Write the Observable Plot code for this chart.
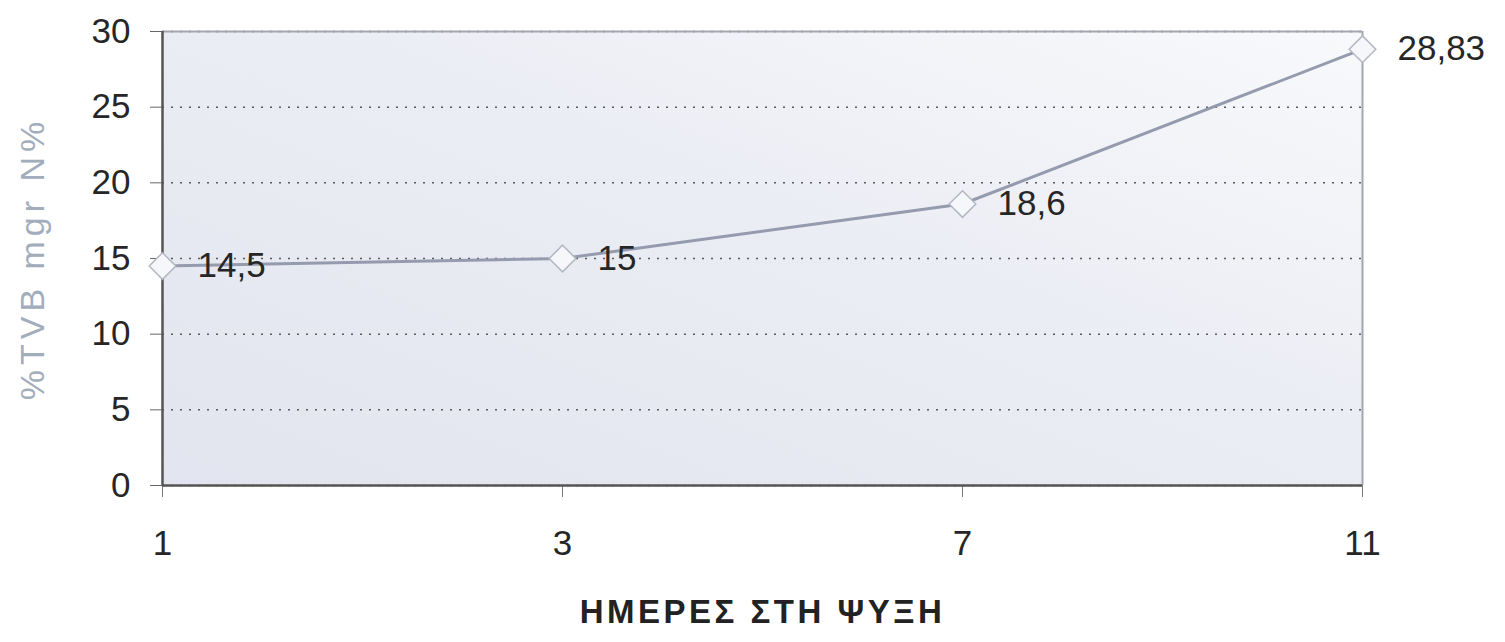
<!DOCTYPE html>
<html>
<head>
<meta charset="utf-8">
<script src="https://cdn.jsdelivr.net/npm/d3@7"></script>
<script src="https://cdn.jsdelivr.net/npm/@observablehq/plot@0.6"></script>
<style>
  html, body { margin: 0; padding: 0; background: #fff; }
</style>
</head>
<body>
<div id="chart"></div>
<script>
// Days in cold storage and total volatile basic nitrogen
const days = ["1", "3", "7", "11"];
const tvb = [14.5, 15, 18.6, 28.83];
const yTicks = [0, 5, 10, 15, 20, 25, 30];
const xTitle = "ΗΜΕΡΕΣ ΣΤΗ ΨΥΞΗ";
const yTitle = "%TVB mgr N%";

const data = days.map((d, i) => ({day: d, value: tvb[i]}));
const fmt = v => String(v).replace(".", ",");

// Plot-area panel with a soft lavender-grey gradient
function panel(index, scales, values, dims) {
  const g = d3.create("svg:g");
  const grad = g.append("defs").append("linearGradient")
    .attr("id", "panelGrad")
    .attr("x1", "0").attr("y1", "1").attr("x2", "1").attr("y2", "0");
  grad.append("stop").attr("offset", "0%").attr("stop-color", "#e2e5ef");
  grad.append("stop").attr("offset", "55%").attr("stop-color", "#ebedf4");
  grad.append("stop").attr("offset", "100%").attr("stop-color", "#f8f9fb");
  g.append("rect")
    .attr("x", dims.marginLeft)
    .attr("y", dims.marginTop)
    .attr("width", dims.width - dims.marginLeft - dims.marginRight)
    .attr("height", dims.height - dims.marginTop - dims.marginBottom)
    .attr("fill", "url(#panelGrad)");
  return g.node();
}

const chart = Plot.plot({
  width: 1505,
  height: 642,
  marginLeft: 162,
  marginRight: 143,
  marginTop: 31,
  marginBottom: 157,
  style: {fontFamily: "'Liberation Sans', Arial, sans-serif", background: "transparent", overflow: "visible"},
  x: {type: "point", domain: days, padding: 0},
  y: {domain: [0, 30]},
  marks: [
    panel,
    Plot.gridY(yTicks, {stroke: "#5a5a5a", strokeOpacity: 1, strokeWidth: 1.5, strokeDasharray: "2 7"}),
    Plot.ruleY([30], {stroke: "#a3a6b0", strokeWidth: 2}),
    Plot.ruleX(["11"], {stroke: "#a3a6b0", strokeWidth: 2}),
    Plot.axisY(yTicks, {tickSize: 12, tickPadding: 20, fontSize: 35, label: null, stroke: "#666", fill: "#262626"}),
    Plot.axisX({tickSize: 12, tickPadding: 33, fontSize: 35, label: null, stroke: "#777", fill: "#262626"}),
    Plot.ruleX(["1"], {stroke: "#555", strokeWidth: 2.5}),
    Plot.ruleY([0], {stroke: "#555", strokeWidth: 2.5}),
    Plot.line(data, {x: "day", y: "value", stroke: "#959bae", strokeWidth: 3}),
    Plot.dot(data, {x: "day", y: "value", symbol: "diamond2", r: 12, fill: "#f6f7fa", stroke: "#b3b7c3", strokeWidth: 1.5}),
    Plot.text(data, {x: "day", y: "value", text: d => fmt(d.value), dx: 35, textAnchor: "start", fontSize: 35, fill: "#262626"}),
    Plot.text([xTitle], {frameAnchor: "bottom", dy: 127, textAnchor: "middle", lineAnchor: "middle", fontSize: 33, fontWeight: "bold", fill: "#222"}),
    Plot.text([yTitle], {frameAnchor: "left", dx: -129, rotate: -90, textAnchor: "middle", lineAnchor: "middle", fontSize: 34, fill: "#a2adbc"})
  ]
});

document.getElementById("chart").appendChild(chart);

// spacing for the axis titles
d3.select(chart).selectAll("text").each(function () {
  const t = this.textContent;
  if (t === xTitle) this.setAttribute("letter-spacing", "3.5px");
  if (t === yTitle) this.setAttribute("letter-spacing", "5px");
});
</script>
</body>
</html>
